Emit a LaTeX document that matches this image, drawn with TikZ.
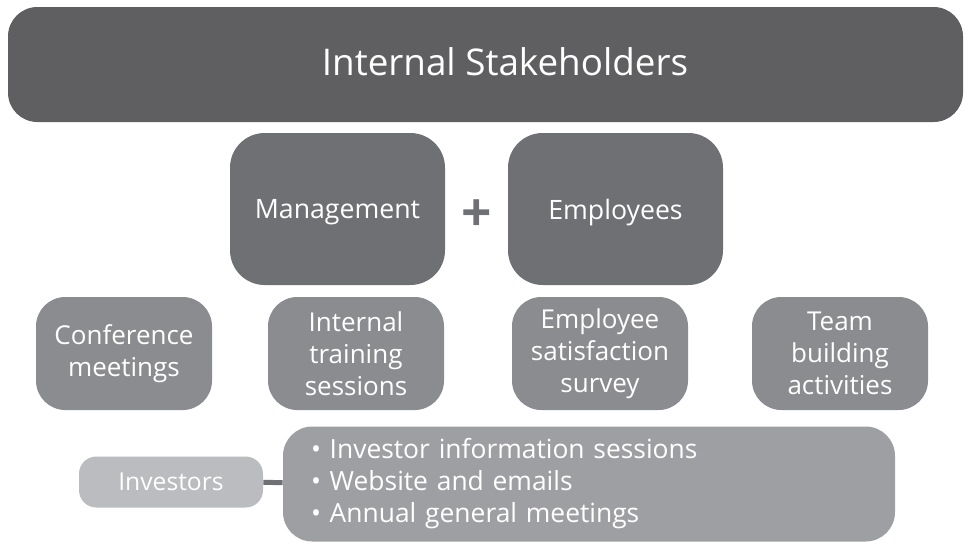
\documentclass[tikz,border=0pt]{standalone}
\usepackage{fontspec}
\setmainfont{Open Sans}
\definecolor{ISFirst}{RGB}{95,95,98}
\definecolor{ISSecond}{RGB}{111,112,116}
\definecolor{ISThird}{RGB}{139,140,144}
\definecolor{ISFourth}{RGB}{158,159,163}
\definecolor{ISFifth}{RGB}{187,188,191}

\begin{document}
\begin{tikzpicture}[x=0.75pt,y=-0.75pt,
		box/.style={rounded corners=22pt,text=white,align=center,inner sep=0pt},
		group/.style={box,fill=ISSecond,minimum width=161.25pt,minimum height=114pt,rounded corners=26pt,text depth=0pt,font=\fontsize{20}{24}\selectfont},
		activity/.style={box,fill=ISThird,minimum width=132pt,minimum height=84.75pt,font=\fontsize{19.5}{24}\selectfont},
		link/.style={draw=ISSecond,line width=3.75pt}]
	\useasboundingbox (0,0) rectangle (965,544);
	\begin{scope}
		% top bar
		\node[box,fill=ISFirst,minimum width=716.25pt,minimum height=86.25pt] (bar) at (485.5,64.5) {};
		\node[text=white,font=\fontsize{27.6}{32}\selectfont] (title) at (505,62) {Internal Stakeholders};

		\node[group] (mgmt) at (337.5,209) {Management};
		\node[group] (empl) at (615.5,209) {Employees};
		\node[text=ISSecond,font=\fontsize{40}{40}\selectfont\bfseries] (plus) at (477,216) {+};

		\node[activity] (conf) at (124,353.5) {Conference\\meetings};
		\node[activity] (train) at (356,353.5) {Internal\\training\\sessions};
		\node[activity] (survey) at (600,353.5) {Employee\\satisfaction\\survey};
		\node[activity] (team) at (840,353.5) {Team\\building\\activities};

		\node[box,fill=ISFifth,minimum width=138pt,minimum height=38.25pt,rounded corners=13pt,font=\fontsize{18.5}{22}\selectfont] (inv) at (171,482) {Investors};
		\node[box,fill=ISFourth,align=left,text width=417pt,inner xsep=21pt,minimum height=86.25pt,font=\fontsize{19.8}{24}\selectfont] (bul) at (589,484) {• Investor information sessions\\• Website and emails\\• Annual general meetings};
		\draw[link] (inv) -- (bul);
	\end{scope}
\end{tikzpicture}
\end{document}
